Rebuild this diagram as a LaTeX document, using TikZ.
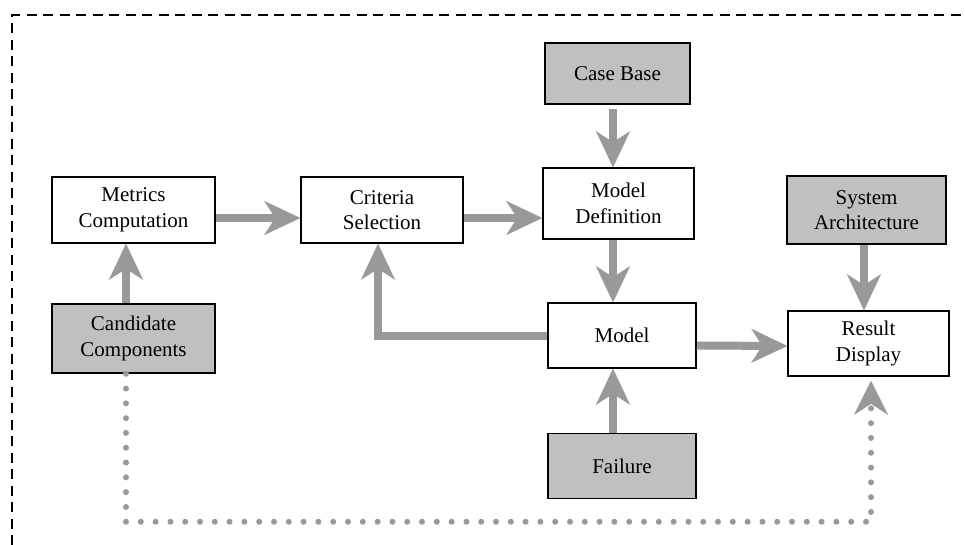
\documentclass[tikz,border=0pt]{standalone}
\usepackage{fontspec}
\setmainfont{Liberation Serif}
\usetikzlibrary{arrows.meta}
\definecolor{arrgray}{HTML}{999999}
\definecolor{boxgray}{HTML}{C0C0C0}
\begin{document}
\begin{tikzpicture}[x=1pt,y=-1pt,
  box/.style={draw=black,line width=1.5pt,fill=white,align=center,inner sep=2pt,
    font=\fontsize{21}{25.5}\selectfont},
  gbox/.style={box,fill=boxgray},
  bigarrow/.style={draw=arrgray,line width=8pt,
    -{Stealth[length=36pt,width=34pt,inset=11pt,line width=0.1pt]}},
  dotline/.style={draw=arrgray,line width=6pt,line cap=round,dash pattern=on 0pt off 14.8pt,
    -{Stealth[length=34pt,width=34pt,inset=11pt,line width=0.1pt]}}
]
\useasboundingbox (0,0) rectangle (965,545);
\draw[line width=1.6pt,dash pattern=on 10pt off 6.5pt] (12,545) -- (12,15) -- (965,15);

\node[box,minimum width=163pt,minimum height=66pt] (mc) at (133.5,210) {Metrics\\Computation};
\node[box,minimum width=162pt,minimum height=66pt] (cs) at (382,210) {Criteria\\Selection};
\node[gbox,minimum width=145pt,minimum height=61pt] (cb) at (617.5,73.5) {Case Base};
\node[box,minimum width=151pt,minimum height=71pt] (md) at (618.5,203.5) {Model\\Definition};
\node[gbox,minimum width=159pt,minimum height=68pt] (sa) at (866.5,210) {System\\Architecture};
\node[gbox,minimum width=163pt,minimum height=69pt] (cc) at (133.5,338.5) {Candidate\\Components};
\node[box,minimum width=148pt,minimum height=65pt] (mo) at (622,335.5) {Model};
\node[box,minimum width=161pt,minimum height=65pt] (rd) at (868.5,343.5) {Result\\Display};
\node[gbox,minimum width=148pt,minimum height=65pt] (fa) at (622,466) {Failure};

\coordinate (ax) at (613,0);
\draw[bigarrow] ([yshift=-8pt]mc.east) -- ([yshift=-8pt]cs.west);
\draw[bigarrow] ([yshift=-8pt]cs.east) -- ([yshift=-14.5pt]md.west);
\draw[bigarrow] ([yshift=-4pt]cb.south -| ax) -- (md.north -| ax);
\draw[bigarrow] (md.south -| ax) -- (mo.north -| ax);
\draw[bigarrow] (fa.north -| ax) -- (mo.south -| ax);
\draw[bigarrow] (mo.west) -| ([xshift=-4pt]cs.south);
\draw[bigarrow] ([yshift=-10pt]mo.east) -- ([yshift=-2.5pt]rd.west);
\draw[bigarrow] ([xshift=-2.5pt]sa.south) -- ([xshift=-4.5pt]rd.north);
\draw[bigarrow] ([xshift=-7.5pt]cc.north) -- ([xshift=-7.5pt]mc.south);
\draw[dotline] ([xshift=-7.5pt]cc.south) -- ++(0,148) -| ([xshift=2.5pt,yshift=-4pt]rd.south);
\end{tikzpicture}
\end{document}
